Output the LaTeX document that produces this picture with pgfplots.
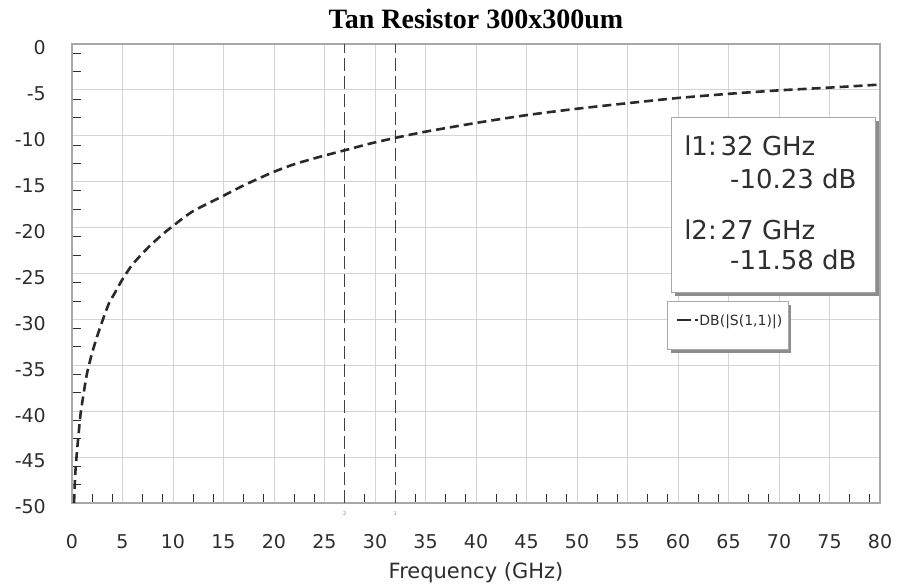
\documentclass[border=0pt]{standalone}
\usepackage{fontspec}
\setmainfont{DejaVu Sans}
\newfontfamily\titlefont{Liberation Serif}
\usepackage{pgfplots}
\pgfplotsset{compat=1.18}

\definecolor{gridgray}{HTML}{D4D4D4}
\definecolor{framegray}{HTML}{A8A8A8}
\definecolor{labelgray}{HTML}{2E2E2E}
\definecolor{curvegray}{HTML}{2A2A2A}
\definecolor{shadowgray}{HTML}{8C8C8C}

\begin{document}
\begin{tikzpicture}
\begin{axis}[
    name=ax, at={(0,0)}, anchor=south west,
    scale only axis, width=808pt, height=459pt,
    xmin=0, xmax=80, ymin=-50, ymax=0,
    xtick={0,5,...,80}, ytick={-50,-45,...,0},
    minor xtick={2,4,7,9,12,14,17,19,22,24,27,29,32,34,37,39,42,44,47,49,52,54,57,59,62,64,67,69,72,74,77,79},
    minor ytick={-48,-46,-43,-41,-38,-36,-33,-31,-28,-26,-23,-21,-18,-16,-13,-11,-8,-6,-3,-1},
    xtick pos=left, ytick pos=left,
    tick align=inside,
    major tick length=0pt, minor tick length=9pt,
    minor tick style={draw=labelgray, line width=0.9pt},
    grid=major,
    major grid style={draw=gridgray, line width=0.9pt},
    axis line style={draw=framegray, line width=2pt},
    clip=false,
    /pgf/number format/assume math mode=true,
    tick label style={font=\fontsize{19}{21}\selectfont, text=labelgray},
    xticklabel style={anchor=north, inner sep=0pt, yshift=-31pt},
    yticklabel style={anchor=east, inner sep=0pt, xshift=-26pt, yshift=-4pt},
    xlabel={Frequency (GHz)},
    xlabel style={at={(axis description cs:0.5,0)}, anchor=center, yshift=-70pt,
        font=\fontsize{21}{23}\selectfont, text=labelgray},
    title={Tan Resistor 300x300um},
    title style={at={(axis description cs:0.5,1)}, anchor=center, yshift=19pt,
        font=\titlefont\bfseries\fontsize{28}{30}\selectfont},
]
% marker lines
\addplot[draw=black!75, line width=1pt, dash pattern=on 13pt off 5pt] coordinates {(27,-50) (27,0)};
\addplot[draw=black!75, line width=1pt, dash pattern=on 13pt off 5pt] coordinates {(32,-50) (32,0)};

% DB(|S(1,1)|)
\addplot[draw=curvegray, line width=2.6pt, dash pattern=on 9pt off 5pt, smooth, tension=0.4] coordinates {
(0.2,-50) (0.33,-46.7) (0.5,-44.3) (0.66,-42.4) (0.85,-40.3) (1.16,-38.0)
(1.5,-35.8) (1.98,-33.7) (2.5,-31.8) (3,-30.2) (3.64,-28.3) (4.3,-27.0)
(4.96,-25.7) (6,-24.0) (7.6,-22.1) (9,-20.7) (10.25,-19.6) (12,-18.2)
(14.87,-16.6) (17,-15.4) (19.82,-14.0) (22,-13.1) (24.5,-12.3) (27,-11.58)
(29.5,-10.85) (32,-10.23) (35,-9.55) (40,-8.6) (45,-7.75) (50,-7.05)
(55,-6.45) (60,-5.88) (65,-5.43) (70,-5.05) (75,-4.75) (80,-4.42)
};

% marker tags under the axis
\node[font=\fontsize{5}{6}\selectfont, text=black!50] at (axis cs:27,-51.2) {2};
\node[font=\fontsize{5}{6}\selectfont, text=black!50] at (axis cs:32,-51.2) {1};

% marker readout box
\fill[shadowgray] ([shift={(3pt,-3pt)}]axis cs:59.4,-8.06) rectangle ([shift={(3pt,-3pt)}]axis cs:79.6,-27.1);
\draw[draw=framegray, fill=white, line width=1pt] (axis cs:59.4,-8.06) rectangle (axis cs:79.6,-27.1);
\node[anchor=base west, inner sep=0pt, text=labelgray, font=\fontsize{26}{28}\selectfont] at (axis cs:60.6,-12.1) {l1:\hspace{0.15em}32 GHz};
\node[anchor=base east, inner sep=0pt, text=labelgray, font=\fontsize{26}{28}\selectfont] at (axis cs:77.7,-15.7) {-10.23 dB};
\node[anchor=base west, inner sep=0pt, text=labelgray, font=\fontsize{26}{28}\selectfont] at (axis cs:60.6,-21.35) {l2:\hspace{0.15em}27 GHz};
\node[anchor=base east, inner sep=0pt, text=labelgray, font=\fontsize{26}{28}\selectfont] at (axis cs:77.7,-24.6) {-11.58 dB};

% legend box
\fill[shadowgray] ([shift={(3pt,-3pt)}]axis cs:59.0,-28.1) rectangle ([shift={(3pt,-3pt)}]axis cs:70.9,-33.3);
\draw[draw=framegray, fill=white, line width=1pt] (axis cs:59.0,-28.1) rectangle (axis cs:70.9,-33.3);
\draw[draw=curvegray, line width=2pt, dash pattern=on 14pt off 4pt on 2.5pt off 20pt] (axis cs:59.9,-30.1) -- (axis cs:62.0,-30.1);
\node[anchor=base west, inner sep=0pt, text=labelgray, font=\fontsize{14}{16}\selectfont] at (axis cs:62.1,-30.7) {DB(|S(1,1)|)};
\end{axis}
\path ([shift={(-72pt,-84pt)}]ax.south west) rectangle ([shift={(17pt,44pt)}]ax.north east);
\end{tikzpicture}
\end{document}
